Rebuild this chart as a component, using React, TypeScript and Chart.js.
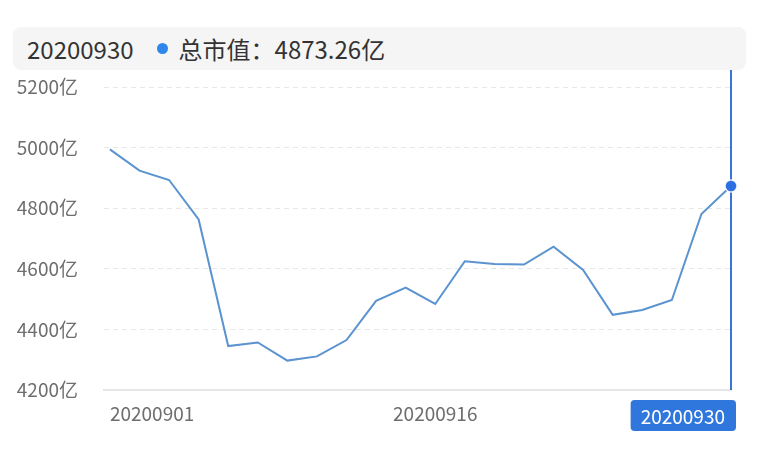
import React, { useEffect, useRef } from "react";
import { Chart, registerables } from "chart.js";

Chart.register(...registerables);

const dates = [
  "20200901", "20200902", "20200903", "20200904", "20200907", "20200908",
  "20200909", "20200910", "20200911", "20200914", "20200915", "20200916",
  "20200917", "20200918", "20200921", "20200922", "20200923", "20200924",
  "20200925", "20200928", "20200929", "20200930",
];
const marketCap = [
  4994, 4924, 4893, 4763, 4345, 4357, 4297, 4311, 4365, 4494, 4538, 4484,
  4625, 4616, 4614, 4673, 4596, 4448, 4464, 4497, 4781, 4873.26,
];
const yTicks = [4200, 4400, 4600, 4800, 5000, 5200];
const xTickIndices = [0, 11, 21];
const seriesName = "总市值";
const unit = "亿";

const FONT = "'Noto Sans CJK SC', 'Noto Sans', sans-serif";
const lastIdx = marketCap.length - 1;

const crosshairPlugin = {
  id: "crosshair",
  beforeDatasetsDraw(chart: any) {
    const { ctx, chartArea, scales } = chart;
    const x = scales.x.getPixelForValue(lastIdx);
    ctx.save();
    ctx.strokeStyle = "#3a73d4";
    ctx.lineWidth = 2;
    ctx.beginPath();
    ctx.moveTo(x, chartArea.top - 25);
    ctx.lineTo(x, chartArea.bottom);
    ctx.stroke();
    ctx.restore();
  },
  afterDraw(chart: any) {
    const { ctx, chartArea, scales } = chart;
    const x = scales.x.getPixelForValue(lastIdx);
    const label = dates[lastIdx];
    ctx.save();
    ctx.font = `19px ${FONT}`;
    const tw = ctx.measureText(label).width;
    const w = tw + 21;
    const h = 31;
    const right = x + 5;
    const left = right - w;
    const top = chartArea.bottom + 10;
    ctx.fillStyle = "#2f77dc";
    ctx.beginPath();
    (ctx as any).roundRect(left, top, w, h, 4);
    ctx.fill();
    ctx.fillStyle = "#ffffff";
    ctx.textBaseline = "middle";
    ctx.textAlign = "left";
    ctx.fillText(label, left + 10, top + h / 2 + 1);
    ctx.restore();
  },
};

export default function App() {
  const canvasRef = useRef<HTMLCanvasElement | null>(null);

  useEffect(() => {
    if (!canvasRef.current) return;
    const points = marketCap.map((v, i) => ({ x: i, y: v }));
    const chart = new Chart(canvasRef.current, {
      type: "line",
      data: {
        datasets: [
          {
            label: seriesName,
            data: points,
            borderColor: "#5a93cf",
            borderWidth: 2,
            tension: 0,
            fill: false,
            clip: false as any,
            pointRadius: marketCap.map((_, i) => (i === lastIdx ? 6 : 0)),
            pointBackgroundColor: "#2d6fe3",
            pointBorderColor: "rgba(255,255,255,0.85)",
            pointBorderWidth: 1.5,
          },
        ],
      },
      options: {
        animation: false,
        responsive: false,
        events: [],
        layout: { padding: { left: 17, right: 39, top: 87, bottom: 38 } },
        plugins: {
          legend: { display: false },
          tooltip: { enabled: false },
        },
        scales: {
          x: {
            type: "linear",
            min: -0.2,
            max: lastIdx,
            afterBuildTicks: (scale: any) => {
              scale.ticks = xTickIndices.map((v) => ({ value: v }));
            },
            afterFit: (scale: any) => {
              scale.height = 35;
              scale.paddingLeft = 0;
              scale.paddingRight = 0;
            },
            grid: { display: false, drawTicks: false },
            border: { display: true, color: "#e6e6e6", width: 2 },
            ticks: {
              autoSkip: false,
              maxRotation: 0,
              align: "inner",
              padding: 12,
              color: "#6e6e6e",
              font: { family: FONT, size: 19 },
              callback: (v: any) => dates[Math.round(Number(v))] ?? "",
            },
          },
          y: {
            min: yTicks[0],
            max: yTicks[yTicks.length - 1],
            afterBuildTicks: (scale: any) => {
              scale.ticks = yTicks.map((v) => ({ value: v }));
            },
            afterFit: (scale: any) => {
              scale.width = 87;
              scale.paddingTop = 0;
              scale.paddingBottom = 0;
            },
            grid: {
              drawTicks: false,
              color: (c: any) =>
                c.tick && c.tick.value === yTicks[0] ? "rgba(0,0,0,0)" : "#e8e8e8",
              lineWidth: 1,
            },
            border: { display: false, dash: [5, 4] },
            ticks: {
              padding: 26,
              color: "#6e6e6e",
              font: { family: FONT, size: 19 },
              callback: (v: any) => `${v}${unit}`,
            },
          },
        },
      },
      plugins: [crosshairPlugin],
    } as any);
    return () => chart.destroy();
  }, []);

  return (
    <div
      style={{
        position: "fixed",
        left: 0,
        top: 0,
        width: 770,
        height: 463,
        background: "#ffffff",
        fontFamily: FONT,
      }}
    >
      <canvas ref={canvasRef} width={770} height={463} style={{ display: "block" }} />
      <div
        style={{
          position: "absolute",
          left: 13,
          top: 27,
          width: 733,
          height: 43,
          background: "#f5f5f5",
          borderRadius: 8,
          display: "flex",
          alignItems: "center",
          color: "#333333",
          fontSize: 24,
          lineHeight: "24px",
          whiteSpace: "nowrap",
        }}
      >
        <span style={{ marginLeft: 14 }}>{dates[lastIdx]}</span>
        <span
          style={{
            display: "inline-block",
            width: 11,
            height: 11,
            borderRadius: "50%",
            background: "#2f86eb",
            marginLeft: 23,
          }}
        />
        <span style={{ marginLeft: 11 }}>
          {seriesName}：{marketCap[lastIdx]}
          {unit}
        </span>
      </div>
    </div>
  );
}
